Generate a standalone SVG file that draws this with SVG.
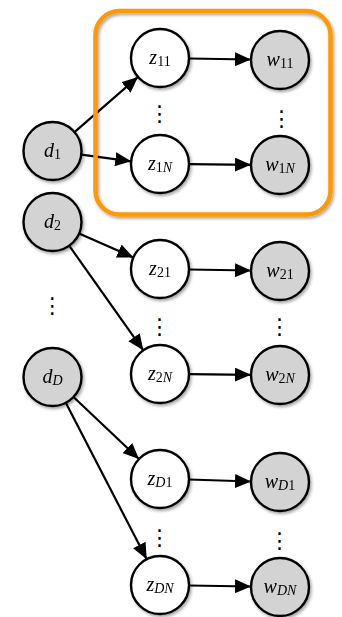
<svg xmlns="http://www.w3.org/2000/svg" width="342" height="617" viewBox="0 0 342 617">
<style>
.obs{fill:#d3d3d3;stroke:#000;stroke-width:2.4}
.lat{fill:#fff;stroke:#000;stroke-width:2.4}
.edge{stroke:#000;stroke-width:2.2;fill:none;marker-end:url(#ah)}
.lbl{font-family:"Liberation Serif","DejaVu Serif",serif;font-size:20px;font-style:italic;text-anchor:middle;fill:#000}
.sub{font-size:14px}
.up{font-style:normal}
.dots{font-family:"DejaVu Sans",sans-serif;font-size:22px;text-anchor:middle;fill:#000}
</style>
<defs>
<filter id="sh" x="-30%" y="-30%" width="160%" height="160%">
<feDropShadow dx="1.5" dy="2" stdDeviation="1.8" flood-color="#000" flood-opacity="0.35"/>
</filter>
<marker id="ah" markerUnits="userSpaceOnUse" viewBox="0 0 16 14" markerWidth="16" markerHeight="14" refX="16" refY="7" orient="auto">
<path d="M0,0 L16,7 L0,14 z" fill="#000"/>
</marker>
</defs>
<rect width="342" height="617" fill="#fff"/>

<g id="connectors">
<line class="edge" x1="74.5" y1="132.1" x2="138" y2="76.9"/>
<line class="edge" x1="81.3" y1="154.7" x2="131.2" y2="161.3"/>
<line class="edge" x1="79.1" y1="233.6" x2="133.4" y2="257.4"/>
<line class="edge" x1="69.2" y1="245.7" x2="143.3" y2="350.3"/>
<line class="edge" x1="73.5" y1="397" x2="139" y2="459"/>
<line class="edge" x1="65.8" y1="402.8" x2="146.7" y2="559.2"/>
<line class="edge" x1="189" y1="58.5" x2="251" y2="59.5"/>
<line class="edge" x1="189" y1="164.2" x2="251" y2="164.8"/>
<line class="edge" x1="189" y1="269.5" x2="251" y2="270.5"/>
<line class="edge" x1="189" y1="374.2" x2="251" y2="374.8"/>
<line class="edge" x1="189" y1="479.5" x2="251" y2="481.5"/>
<line class="edge" x1="189" y1="585.5" x2="251" y2="586.5"/>
</g>

<g id="plate" filter="url(#sh)">
<rect x="95.5" y="11" width="235" height="203.5" rx="24" fill="none" stroke="#ff9900" stroke-width="4.5"/>
</g>

<g id="d1" filter="url(#sh)"><circle class="obs" cx="52.5" cy="151" r="29"/><text class="lbl" x="52.5" y="157">d<tspan class="sub up" dy="2">1</tspan></text></g>
<g id="d2" filter="url(#sh)"><circle class="obs" cx="52.5" cy="222" r="29"/><text class="lbl" x="52.5" y="228">d<tspan class="sub up" dy="2">2</tspan></text></g>
<g id="dD" filter="url(#sh)"><circle class="obs" cx="52.5" cy="377" r="29"/><text class="lbl" x="52.5" y="383">d<tspan class="sub" dy="2">D</tspan></text></g>

<g id="z11" filter="url(#sh)"><circle class="lat" cx="160" cy="58" r="29"/><text class="lbl" x="160" y="64">z<tspan class="sub up" dy="2">11</tspan></text></g>
<g id="z1N" filter="url(#sh)"><circle class="lat" cx="160" cy="164" r="29"/><text class="lbl" x="160" y="170">z<tspan class="sub up" dy="2">1</tspan><tspan class="sub">N</tspan></text></g>
<g id="z21" filter="url(#sh)"><circle class="lat" cx="160" cy="269" r="29"/><text class="lbl" x="160" y="275">z<tspan class="sub up" dy="2">21</tspan></text></g>
<g id="z2N" filter="url(#sh)"><circle class="lat" cx="160" cy="374" r="29"/><text class="lbl" x="160" y="380">z<tspan class="sub up" dy="2">2</tspan><tspan class="sub">N</tspan></text></g>
<g id="zD1" filter="url(#sh)"><circle class="lat" cx="160" cy="479" r="29"/><text class="lbl" x="160" y="485">z<tspan class="sub" dy="2">D</tspan><tspan class="sub up">1</tspan></text></g>
<g id="zDN" filter="url(#sh)"><circle class="lat" cx="160" cy="585" r="29"/><text class="lbl" x="160" y="591">z<tspan class="sub" dy="2">DN</tspan></text></g>

<g id="w11" filter="url(#sh)"><circle class="obs" cx="280" cy="60" r="29"/><text class="lbl" x="280" y="66">w<tspan class="sub up" dy="2">11</tspan></text></g>
<g id="w1N" filter="url(#sh)"><circle class="obs" cx="280" cy="165" r="29"/><text class="lbl" x="280" y="171">w<tspan class="sub up" dy="2">1</tspan><tspan class="sub">N</tspan></text></g>
<g id="w21" filter="url(#sh)"><circle class="obs" cx="280" cy="271" r="29"/><text class="lbl" x="280" y="277">w<tspan class="sub up" dy="2">21</tspan></text></g>
<g id="w2N" filter="url(#sh)"><circle class="obs" cx="280" cy="375" r="29"/><text class="lbl" x="280" y="381">w<tspan class="sub up" dy="2">2</tspan><tspan class="sub">N</tspan></text></g>
<g id="wD1" filter="url(#sh)"><circle class="obs" cx="280" cy="482" r="29"/><text class="lbl" x="280" y="488">w<tspan class="sub" dy="2">D</tspan><tspan class="sub up">1</tspan></text></g>
<g id="wDN" filter="url(#sh)"><circle class="obs" cx="280" cy="587" r="29"/><text class="lbl" x="280" y="593">w<tspan class="sub" dy="2">DN</tspan></text></g>

<g id="ellipses">
<text class="dots" x="159.5" y="121">⋮</text>
<text class="dots" x="281.5" y="125.5">⋮</text>
<text class="dots" x="52.3" y="313">⋮</text>
<text class="dots" x="159.5" y="334">⋮</text>
<text class="dots" x="279.5" y="334">⋮</text>
<text class="dots" x="159.5" y="545">⋮</text>
<text class="dots" x="279.5" y="548">⋮</text>
</g>
</svg>
